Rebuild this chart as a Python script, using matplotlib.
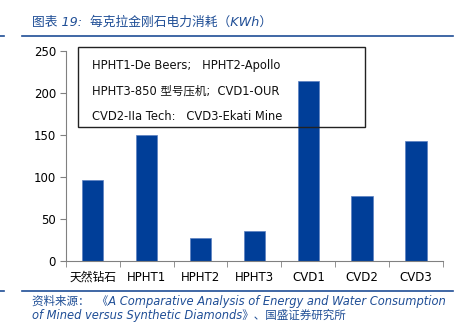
import numpy as np
import matplotlib
matplotlib.use('Agg')
import matplotlib.pyplot as plt
from matplotlib.lines import Line2D

plt.rcParams['font.family'] = ['DejaVu Sans', 'Noto Sans CJK SC']

# data
categories = ['天然钻石', 'HPHT1', 'HPHT2', 'HPHT3', 'CVD1', 'CVD2', 'CVD3']
energy_kwh = [96, 150, 28, 36, 215, 77, 143]
yticks = [0, 50, 100, 150, 200, 250]
note_lines = ['HPHT1-De Beers;   HPHT2-Apollo',
              'HPHT3-850 型号压机;  CVD1-OUR',
              'CVD2-IIa Tech:   CVD3-Ekati Mine']
title = '图表 19:  每克拉金刚石电力消耗（KWh）'
source = ['资料来源：  《A Comparative Analysis of Energy and Water Consumption',
          'of Mined versus Synthetic Diamonds》、国盛证券研究所']

bar_color = '#003E98'
blue = '#1F4E96'

fig = plt.figure(figsize=(4.63, 3.30), dpi=100)
ax = fig.add_axes([0.142, 0.209, 0.815, 0.636])

x = np.arange(len(categories))
ax.bar(x, energy_kwh, width=0.4, color=bar_color, edgecolor='#5B7FC0', linewidth=0.5)

ax.set_xlim(-0.5, len(categories) - 0.5)
ax.set_ylim(0, 250)
ax.set_yticks(yticks)
ax.set_xticks(x)
ax.set_xticklabels(categories)
ax.set_xticks(np.arange(-0.5, len(categories)), minor=True)
ax.tick_params(axis='x', which='major', length=0, pad=7, labelsize=8.5)
ax.tick_params(axis='x', which='minor', length=4, color='#808080')
ax.tick_params(axis='y', length=4, color='#808080', labelsize=8.5, pad=3)
for s in ['top', 'right']:
    ax.spines[s].set_visible(False)
for s in ['left', 'bottom']:
    ax.spines[s].set_color('#808080')
    ax.spines[s].set_linewidth(0.8)

# note box (transparent, drawn over the bars)
box = plt.Rectangle((78 / 463, 1 - 127 / 330), 287 / 463, 80 / 330,
                    transform=fig.transFigure, facecolor='none',
                    edgecolor='#222222', linewidth=1.0, zorder=10)
ax.add_artist(box)
box.set_clip_on(False)
for i, line in enumerate(note_lines):
    fig.text(92 / 463, 1 - (66 + 25 * i) / 330, line, fontsize=8.3,
             va='center', ha='left', color='#111111', zorder=11)

# title and source with rules
fig.text(32 / 463, 1 - 22 / 330, title, fontsize=9.2, color=blue,
         style='italic', va='center', ha='left')
for yy in [36, 291]:
    fig.lines.append(Line2D([22 / 463, 453 / 463], [1 - yy / 330] * 2,
                            transform=fig.transFigure, color=blue, linewidth=1.2))
    fig.lines.append(Line2D([0, 4 / 463], [1 - yy / 330] * 2,
                            transform=fig.transFigure, color=blue, linewidth=1.2))
for i, line in enumerate(source):
    fig.text(32 / 463, 1 - (301 + 14 * i) / 330, line, fontsize=8.3,
             color=blue, style='italic', va='center', ha='left')

fig.savefig('out.png', dpi=100)
